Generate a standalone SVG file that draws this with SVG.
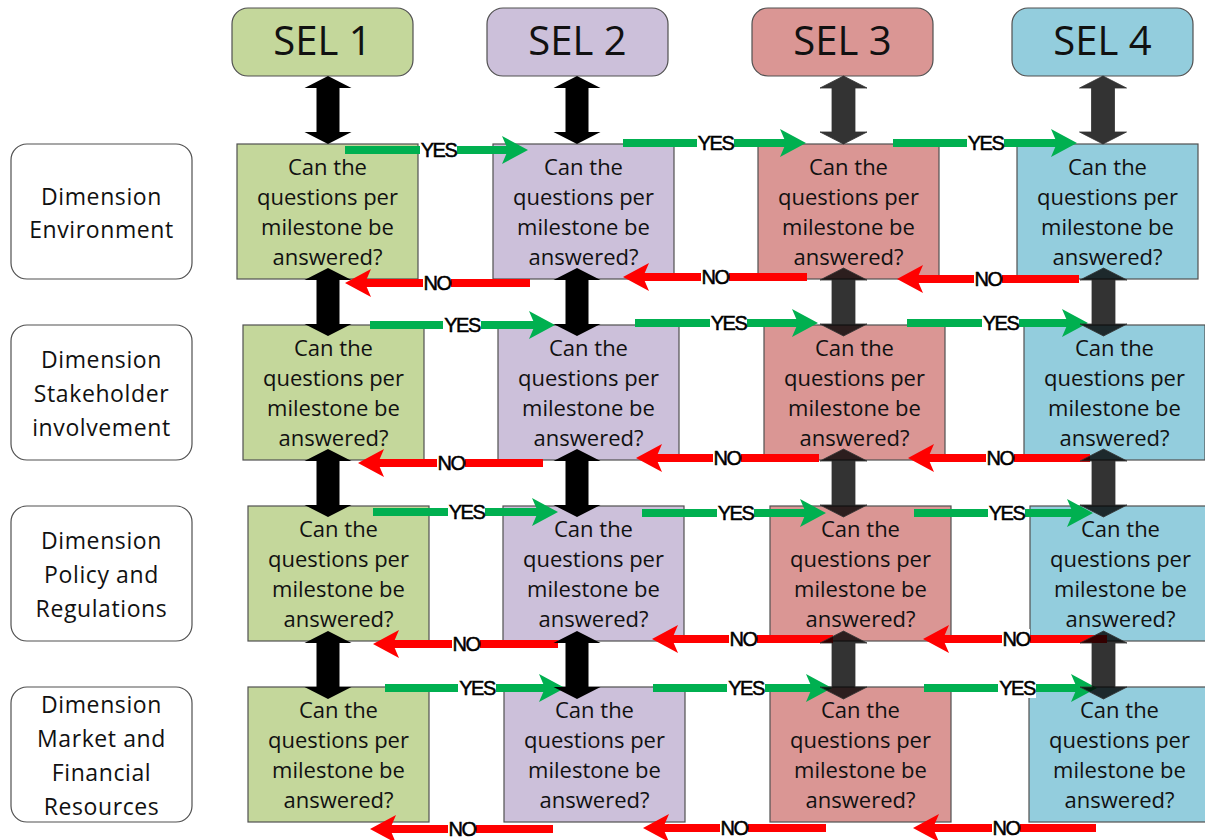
<svg xmlns="http://www.w3.org/2000/svg" xmlns:xlink="http://www.w3.org/1999/xlink" width="1205" height="840" viewBox="0 0 1205 840">
<style>
.hdr{stroke:#505050;stroke-width:1.2}
.box{stroke:#505050;stroke-width:1.2}
.dim{fill:#fff;stroke:#505050;stroke-width:1.2}
.g{fill:#C4D79B}.p{fill:#CCC0DA}.r{fill:#DA9694}.b{fill:#93CDDD}
.ht{font-family:"Open Sans","Liberation Sans",sans-serif;font-size:40px;text-anchor:middle;fill:#111}
.qt{font-family:"Open Sans","Liberation Sans",sans-serif;font-size:22px;text-anchor:middle;fill:#111}
.dt{font-family:"Open Sans","Liberation Sans",sans-serif;font-size:23px;letter-spacing:0.6px;text-anchor:middle;fill:#111}
.yes{stroke:#00B050;stroke-width:8;fill:none}
.no{stroke:#FF0000;stroke-width:8;fill:none}
.lbl{font-family:"Liberation Sans",Arial,sans-serif;font-size:20px;letter-spacing:-1.5px;text-anchor:middle;fill:#000;stroke:#000;stroke-width:0.5}
.bg{fill:#fff}
.da{fill:#000}
.dd{fill:#000;fill-opacity:0.8;stroke:#333;stroke-width:0.8}
</style>
<defs>
<marker id="mg" markerUnits="userSpaceOnUse" markerWidth="40" markerHeight="40" viewBox="-10 -20 40 40" refX="0" refY="0" orient="auto" overflow="visible">
<path d="M20,0 L-6,-14 L0,0 L-6,14 Z" fill="#00B050"/>
</marker>
<marker id="mr" markerUnits="userSpaceOnUse" markerWidth="40" markerHeight="40" viewBox="-10 -20 40 40" refX="0" refY="0" orient="auto" overflow="visible">
<path d="M20,0 L-6,-14 L0,0 L-6,14 Z" fill="#FF0000"/>
</marker>
<path id="dbl" d="M0,0 L23.5,12 L11.5,12 L11.5,56 L23.5,56 L0,68 L-23.5,56 L-11.5,56 L-11.5,12 L-23.5,12 Z"/>
</defs>

<g id="headers">
<g id="sel1"><rect class="hdr g" x="232" y="8" width="181" height="68" rx="16"/><text class="ht" x="322.5" y="55">SEL 1</text></g>
<g id="sel2"><rect class="hdr p" x="487" y="8" width="181" height="68" rx="16"/><text class="ht" x="577.5" y="55">SEL 2</text></g>
<g id="sel3"><rect class="hdr r" x="752" y="8" width="181" height="68" rx="16"/><text class="ht" x="842.5" y="55">SEL 3</text></g>
<g id="sel4"><rect class="hdr b" x="1012" y="8" width="181" height="68" rx="16"/><text class="ht" x="1102.5" y="55">SEL 4</text></g>
</g>

<g id="dimensions">
<g id="dim-environment"><rect class="dim" x="11" y="144" width="181" height="135" rx="16"/><text class="dt" x="101.5" y="205">Dimension</text><text class="dt" x="101.5" y="238">Environment</text></g>
<g id="dim-stakeholder"><rect class="dim" x="11" y="325" width="181" height="135" rx="16"/><text class="dt" x="101.5" y="368">Dimension</text><text class="dt" x="101.5" y="402">Stakeholder</text><text class="dt" x="101.5" y="436">involvement</text></g>
<g id="dim-policy"><rect class="dim" x="11" y="506" width="181" height="135" rx="16"/><text class="dt" x="101.5" y="549">Dimension</text><text class="dt" x="101.5" y="583">Policy and</text><text class="dt" x="101.5" y="617">Regulations</text></g>
<g id="dim-market"><rect class="dim" x="11" y="687" width="181" height="135" rx="16"/><text class="dt" x="101.5" y="713">Dimension</text><text class="dt" x="101.5" y="747">Market and</text><text class="dt" x="101.5" y="781">Financial</text><text class="dt" x="101.5" y="815">Resources</text></g>
</g>

<g id="questions">
<g id="q-r1c1"><rect class="box g" x="237" y="144" width="181" height="135"/><text class="qt"><tspan x="327.5" y="174.5">Can the</tspan><tspan x="327.5" y="204.5">questions per</tspan><tspan x="327.5" y="234.5">milestone be</tspan><tspan x="327.5" y="264.5">answered?</tspan></text></g>
<g id="q-r1c2"><rect class="box p" x="493" y="144" width="181" height="135"/><text class="qt"><tspan x="583.5" y="174.5">Can the</tspan><tspan x="583.5" y="204.5">questions per</tspan><tspan x="583.5" y="234.5">milestone be</tspan><tspan x="583.5" y="264.5">answered?</tspan></text></g>
<g id="q-r1c3"><rect class="box r" x="758" y="144" width="181" height="135"/><text class="qt"><tspan x="848.5" y="174.5">Can the</tspan><tspan x="848.5" y="204.5">questions per</tspan><tspan x="848.5" y="234.5">milestone be</tspan><tspan x="848.5" y="264.5">answered?</tspan></text></g>
<g id="q-r1c4"><rect class="box b" x="1017" y="144" width="181" height="135"/><text class="qt"><tspan x="1107.5" y="174.5">Can the</tspan><tspan x="1107.5" y="204.5">questions per</tspan><tspan x="1107.5" y="234.5">milestone be</tspan><tspan x="1107.5" y="264.5">answered?</tspan></text></g>

<g id="q-r2c1"><rect class="box g" x="243" y="325" width="181" height="135"/><text class="qt"><tspan x="333.5" y="355.5">Can the</tspan><tspan x="333.5" y="385.5">questions per</tspan><tspan x="333.5" y="415.5">milestone be</tspan><tspan x="333.5" y="445.5">answered?</tspan></text></g>
<g id="q-r2c2"><rect class="box p" x="498" y="325" width="181" height="135"/><text class="qt"><tspan x="588.5" y="355.5">Can the</tspan><tspan x="588.5" y="385.5">questions per</tspan><tspan x="588.5" y="415.5">milestone be</tspan><tspan x="588.5" y="445.5">answered?</tspan></text></g>
<g id="q-r2c3"><rect class="box r" x="764" y="325" width="181" height="135"/><text class="qt"><tspan x="854.5" y="355.5">Can the</tspan><tspan x="854.5" y="385.5">questions per</tspan><tspan x="854.5" y="415.5">milestone be</tspan><tspan x="854.5" y="445.5">answered?</tspan></text></g>
<g id="q-r2c4"><rect class="box b" x="1024" y="325" width="181" height="135"/><text class="qt"><tspan x="1114.5" y="355.5">Can the</tspan><tspan x="1114.5" y="385.5">questions per</tspan><tspan x="1114.5" y="415.5">milestone be</tspan><tspan x="1114.5" y="445.5">answered?</tspan></text></g>

<g id="q-r3c1"><rect class="box g" x="248" y="506" width="181" height="135"/><text class="qt"><tspan x="338.5" y="536.5">Can the</tspan><tspan x="338.5" y="566.5">questions per</tspan><tspan x="338.5" y="596.5">milestone be</tspan><tspan x="338.5" y="626.5">answered?</tspan></text></g>
<g id="q-r3c2"><rect class="box p" x="503" y="506" width="181" height="135"/><text class="qt"><tspan x="593.5" y="536.5">Can the</tspan><tspan x="593.5" y="566.5">questions per</tspan><tspan x="593.5" y="596.5">milestone be</tspan><tspan x="593.5" y="626.5">answered?</tspan></text></g>
<g id="q-r3c3"><rect class="box r" x="770" y="506" width="181" height="135"/><text class="qt"><tspan x="860.5" y="536.5">Can the</tspan><tspan x="860.5" y="566.5">questions per</tspan><tspan x="860.5" y="596.5">milestone be</tspan><tspan x="860.5" y="626.5">answered?</tspan></text></g>
<g id="q-r3c4"><rect class="box b" x="1030" y="506" width="181" height="135"/><text class="qt"><tspan x="1120.5" y="536.5">Can the</tspan><tspan x="1120.5" y="566.5">questions per</tspan><tspan x="1120.5" y="596.5">milestone be</tspan><tspan x="1120.5" y="626.5">answered?</tspan></text></g>

<g id="q-r4c1"><rect class="box g" x="248" y="687" width="181" height="135"/><text class="qt"><tspan x="338.5" y="717.5">Can the</tspan><tspan x="338.5" y="747.5">questions per</tspan><tspan x="338.5" y="777.5">milestone be</tspan><tspan x="338.5" y="807.5">answered?</tspan></text></g>
<g id="q-r4c2"><rect class="box p" x="504" y="687" width="181" height="135"/><text class="qt"><tspan x="594.5" y="717.5">Can the</tspan><tspan x="594.5" y="747.5">questions per</tspan><tspan x="594.5" y="777.5">milestone be</tspan><tspan x="594.5" y="807.5">answered?</tspan></text></g>
<g id="q-r4c3"><rect class="box r" x="770" y="687" width="181" height="135"/><text class="qt"><tspan x="860.5" y="717.5">Can the</tspan><tspan x="860.5" y="747.5">questions per</tspan><tspan x="860.5" y="777.5">milestone be</tspan><tspan x="860.5" y="807.5">answered?</tspan></text></g>
<g id="q-r4c4"><rect class="box b" x="1029" y="687" width="181" height="135"/><text class="qt"><tspan x="1119.5" y="717.5">Can the</tspan><tspan x="1119.5" y="747.5">questions per</tspan><tspan x="1119.5" y="777.5">milestone be</tspan><tspan x="1119.5" y="807.5">answered?</tspan></text></g>
</g>

<g id="connectors">
<g id="yes-arrows">
<path class="yes" marker-end="url(#mg)" d="M345,150 H508"/>
<path class="yes" marker-end="url(#mg)" d="M623,143 H786"/>
<path class="yes" marker-end="url(#mg)" d="M893,143 H1057"/>
<path class="yes" marker-end="url(#mg)" d="M370,325 H535"/>
<path class="yes" marker-end="url(#mg)" d="M635,323 H798"/>
<path class="yes" marker-end="url(#mg)" d="M907,323 H1068"/>
<path class="yes" marker-end="url(#mg)" d="M373,512 H538"/>
<path class="yes" marker-end="url(#mg)" d="M642,513 H806"/>
<path class="yes" marker-end="url(#mg)" d="M914,513 H1073"/>
<path class="yes" marker-end="url(#mg)" d="M385,688 H545"/>
<path class="yes" marker-end="url(#mg)" d="M653,688 H812"/>
<path class="yes" marker-end="url(#mg)" d="M924,688 H1077"/>
</g>
<g id="no-arrows">
<path class="no" marker-end="url(#mr)" d="M530,283 H365"/>
<path class="no" marker-end="url(#mr)" d="M807,277 H643"/>
<path class="no" marker-end="url(#mr)" d="M1079,279 H917"/>
<path class="no" marker-end="url(#mr)" d="M543,463 H378"/>
<path class="no" marker-end="url(#mr)" d="M819,458 H656"/>
<path class="no" marker-end="url(#mr)" d="M1090,458 H928"/>
<path class="no" marker-end="url(#mr)" d="M558,644 H393"/>
<path class="no" marker-end="url(#mr)" d="M833,639 H672"/>
<path class="no" marker-end="url(#mr)" d="M1107,639 H943"/>
<path class="no" marker-end="url(#mr)" d="M553,829 H390"/>
<path class="no" marker-end="url(#mr)" d="M826,828 H663"/>
<path class="no" marker-end="url(#mr)" d="M1096,828 H933"/>
</g>
<g id="labels">
<rect class="bg" x="420" y="140" width="37" height="20"/><text class="lbl" x="438.5" y="157">YES</text>
<rect class="bg" x="697" y="133" width="37" height="20"/><text class="lbl" x="715.5" y="150">YES</text>
<rect class="bg" x="967" y="133" width="37" height="20"/><text class="lbl" x="985.5" y="150">YES</text>
<rect class="bg" x="443" y="315" width="38" height="20"/><text class="lbl" x="462" y="332">YES</text>
<rect class="bg" x="710" y="313" width="37" height="20"/><text class="lbl" x="728.5" y="330">YES</text>
<rect class="bg" x="982" y="313" width="37" height="20"/><text class="lbl" x="1000.5" y="330">YES</text>
<rect class="bg" x="448" y="502" width="37" height="20"/><text class="lbl" x="466.5" y="519">YES</text>
<rect class="bg" x="717" y="503" width="37" height="20"/><text class="lbl" x="735.5" y="520">YES</text>
<rect class="bg" x="988" y="503" width="37" height="20"/><text class="lbl" x="1006.5" y="520">YES</text>
<rect class="bg" x="458" y="678" width="38" height="20"/><text class="lbl" x="477" y="695">YES</text>
<rect class="bg" x="727" y="678" width="38" height="20"/><text class="lbl" x="746" y="695">YES</text>
<rect class="bg" x="998" y="678" width="38" height="20"/><text class="lbl" x="1017" y="695">YES</text>

<rect class="bg" x="423" y="273" width="28" height="20"/><text class="lbl" x="437" y="290">NO</text>
<rect class="bg" x="701" y="267" width="28" height="20"/><text class="lbl" x="715" y="284">NO</text>
<rect class="bg" x="974" y="269" width="28" height="20"/><text class="lbl" x="988" y="286">NO</text>
<rect class="bg" x="437" y="453" width="28" height="20"/><text class="lbl" x="451" y="470">NO</text>
<rect class="bg" x="713" y="448" width="28" height="20"/><text class="lbl" x="727" y="465">NO</text>
<rect class="bg" x="986" y="448" width="28" height="20"/><text class="lbl" x="1000" y="465">NO</text>
<rect class="bg" x="452" y="634" width="28" height="20"/><text class="lbl" x="466" y="651">NO</text>
<rect class="bg" x="729" y="629" width="28" height="20"/><text class="lbl" x="743" y="646">NO</text>
<rect class="bg" x="1002" y="629" width="28" height="20"/><text class="lbl" x="1016" y="646">NO</text>
<rect class="bg" x="448" y="819" width="28" height="20"/><text class="lbl" x="462" y="836">NO</text>
<rect class="bg" x="720" y="818" width="28" height="20"/><text class="lbl" x="734" y="835">NO</text>
<rect class="bg" x="992" y="818" width="28" height="20"/><text class="lbl" x="1006" y="835">NO</text>
</g>
<g id="level-arrows">
<use xlink:href="#dbl" class="da" transform="translate(328,76)"/>
<use xlink:href="#dbl" class="da" transform="translate(328,268)"/>
<use xlink:href="#dbl" class="da" transform="translate(328,449)"/>
<use xlink:href="#dbl" class="da" transform="translate(328,631)"/>
<use xlink:href="#dbl" class="da" transform="translate(577,76)"/>
<use xlink:href="#dbl" class="da" transform="translate(577,268)"/>
<use xlink:href="#dbl" class="da" transform="translate(577,449)"/>
<use xlink:href="#dbl" class="da" transform="translate(577,631)"/>
<use xlink:href="#dbl" class="dd" transform="translate(843.5,76)"/>
<use xlink:href="#dbl" class="dd" transform="translate(843.5,268)"/>
<use xlink:href="#dbl" class="dd" transform="translate(843.5,449)"/>
<use xlink:href="#dbl" class="dd" transform="translate(843.5,631)"/>
<use xlink:href="#dbl" class="dd" transform="translate(1103,76)"/>
<use xlink:href="#dbl" class="dd" transform="translate(1103.5,268)"/>
<use xlink:href="#dbl" class="dd" transform="translate(1103.5,449)"/>
<use xlink:href="#dbl" class="dd" transform="translate(1103.5,631)"/>
</g>
</g>
</svg>
